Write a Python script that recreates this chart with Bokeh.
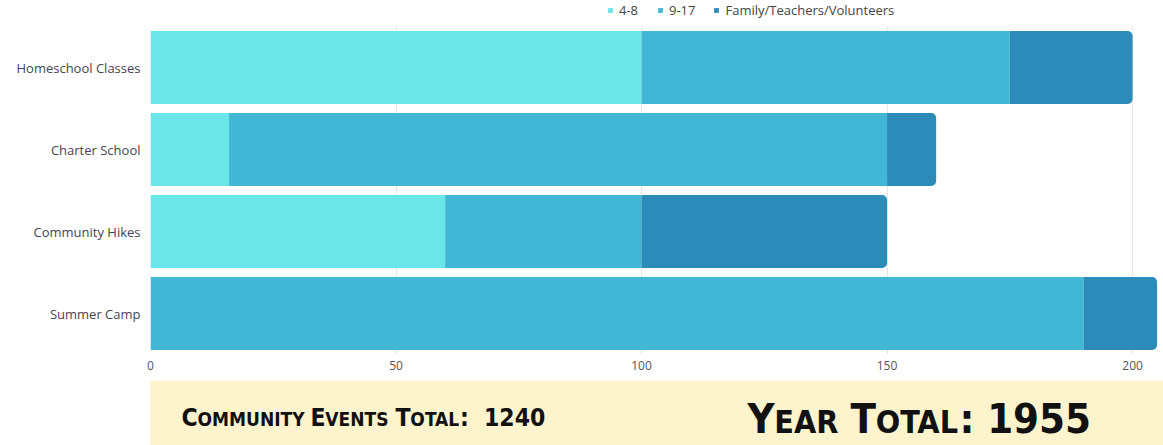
from bokeh.plotting import figure
from bokeh.models import Range1d, FactorRange, Label, SingleIntervalTicker, ColumnDataSource
from bokeh.layouts import column
from bokeh.embed import file_html
from bokeh.resources import INLINE

# ---- data ----
categories = ["Homeschool Classes", "Charter School", "Community Hikes", "Summer Camp"]
series_names = ["4-8", "9-17", "Family/Teachers/Volunteers"]
ages_4_8 = [100, 16, 60, 0]
ages_9_17 = [75, 134, 40, 190]
family = [25, 10, 50, 15]
colors = ["#6ae5e8", "#42b7d5", "#2d8bba"]
tick_interval = 50
community_label = "Community Events Total:"
community_total = "1240"
year_label = "Year Total:"
year_total = "1955"

W_TOTAL = 1163
source = ColumnDataSource(dict(cat=categories, a=ages_4_8, b=ages_9_17, c=family))

# ---- legend strip (top) ----
p0 = figure(width=W_TOTAL, height=22, x_range=Range1d(0, 1),
            y_range=FactorRange(factors=list(reversed(categories))),
            min_border_left=0, min_border_right=0, min_border_top=0, min_border_bottom=0,
            x_axis_location=None, y_axis_location=None, toolbar_location=None,
            output_backend="svg", outline_line_color=None)
p0.grid.visible = False
p0.hbar_stack(["a", "b", "c"], y="cat", height=0.89, fill_color=colors, line_color=None,
              source=source, legend_label=series_names, visible=False)
lg = p0.legend[0]
lg.orientation = "horizontal"
lg.location = (457, 3)
lg.padding = 0
lg.margin = 0
lg.spacing = 18
lg.glyph_width = 6
lg.glyph_height = 6
lg.label_height = 14
lg.label_standoff = 6
lg.label_text_font = "Open Sans"
lg.label_text_font_size = "13px"
lg.label_text_color = "#444444"
lg.border_line_color = None
lg.background_fill_alpha = 0
lg.inactive_fill_alpha = 0

# ---- main chart ----
p = figure(width=W_TOTAL, height=358,
           y_range=FactorRange(factors=list(reversed(categories))),
           x_range=Range1d(0, 206.3),
           min_border_left=150, min_border_right=0, min_border_top=4, min_border_bottom=26,
           toolbar_location=None, output_backend="svg", outline_line_color=None)

rs = p.hbar_stack(["a", "b", "c"], y="cat", height=0.89, fill_color=colors, line_color=None,
                  source=source)
rs[2].glyph.border_radius = (0, 5, 5, 0)

p.xaxis.ticker = SingleIntervalTicker(interval=tick_interval)
p.xaxis.axis_line_color = None
p.xaxis.major_tick_line_color = None
p.xaxis.minor_tick_line_color = None
p.xaxis.major_tick_out = 0
p.xaxis.minor_tick_out = 0
p.xaxis.major_label_text_font = "Open Sans"
p.xaxis.major_label_text_font_size = "12px"
p.xaxis.major_label_text_color = "#555555"
p.xaxis.major_label_standoff = 6

p.yaxis.axis_line_color = None
p.yaxis.major_tick_line_color = None
p.yaxis.minor_tick_line_color = None
p.yaxis.major_tick_out = 0
p.yaxis.minor_tick_out = 0
p.yaxis.major_label_text_font = "Open Sans"
p.yaxis.major_label_text_font_size = "13px"
p.yaxis.major_label_text_color = "#444450"
p.yaxis.major_label_standoff = 10

p.ygrid.grid_line_color = None
p.xgrid.grid_line_color = "#e6e6e6"

# ---- banner ----
p2 = figure(width=W_TOTAL, height=65, x_range=Range1d(0, 1), y_range=Range1d(0, 1),
            min_border_left=147, min_border_right=0, min_border_top=0, min_border_bottom=0,
            x_axis_location=None, y_axis_location=None,
            toolbar_location=None, output_backend="svg",
            background_fill_color="#fdf3cd", outline_line_color=None)
p2.grid.visible = False

BANNER_FONT = "DejaVu Sans Condensed, sans-serif"
# approximate advance widths (em) of the bold face, used only to place small-caps pieces
ADV = {" ": .348, ":": .400, "A": .774, "C": .734, "E": .683, "I": .372, "L": .634,
       "M": .974, "N": .837, "O": .850, "R": .770, "S": .722, "T": .683, "U": .815,
       "V": .774, "Y": .724}
COND = 0.89
BASE_SHIFT = 0.34


def pieces_of(label, number):
    out = []
    for wi, word in enumerate(label.split(" ")):
        if wi:
            out.append((" ", True))
        head, tail = word[0].upper(), word[1:].upper()
        out.append((head, True))
        core = tail.rstrip(":")
        if core:
            out.append((core, False))
        if tail.endswith(":"):
            out.append((":", True))
    out.append(("  ", True))
    out.append((number, True))
    return out


def add_smallcaps(fig, label, number, x0, baseline, big, small, gap=" "):
    x = x0
    y = baseline + BASE_SHIFT * big
    for txt, is_big in pieces_of(label, number):
        size = big if is_big else small
        if txt.strip():
            fig.add_layout(Label(x=x, y=y + BASE_SHIFT * (size - big), x_units="screen",
                                 y_units="screen", text=txt,
                                 text_font=BANNER_FONT, text_font_size=f"{size}px",
                                 text_font_style="bold", text_color="#111111",
                                 text_baseline="alphabetic"))
        w = sum(ADV.get(c, .696) for c in txt) * COND * size
        if txt == "  ":
            w = w if gap == "  " else w / 2
        x += w


# frame of the banner is aligned with the chart frame (left edge at 150 px)
add_smallcaps(p2, community_label, community_total, 31, 20, 24.5, 19, gap="  ")
add_smallcaps(p2, year_label, year_total, 597, 13, 41.5, 32)

layout = column(p0, p, p2, spacing=0)
open("out.html", "w").write(file_html(layout, INLINE))
